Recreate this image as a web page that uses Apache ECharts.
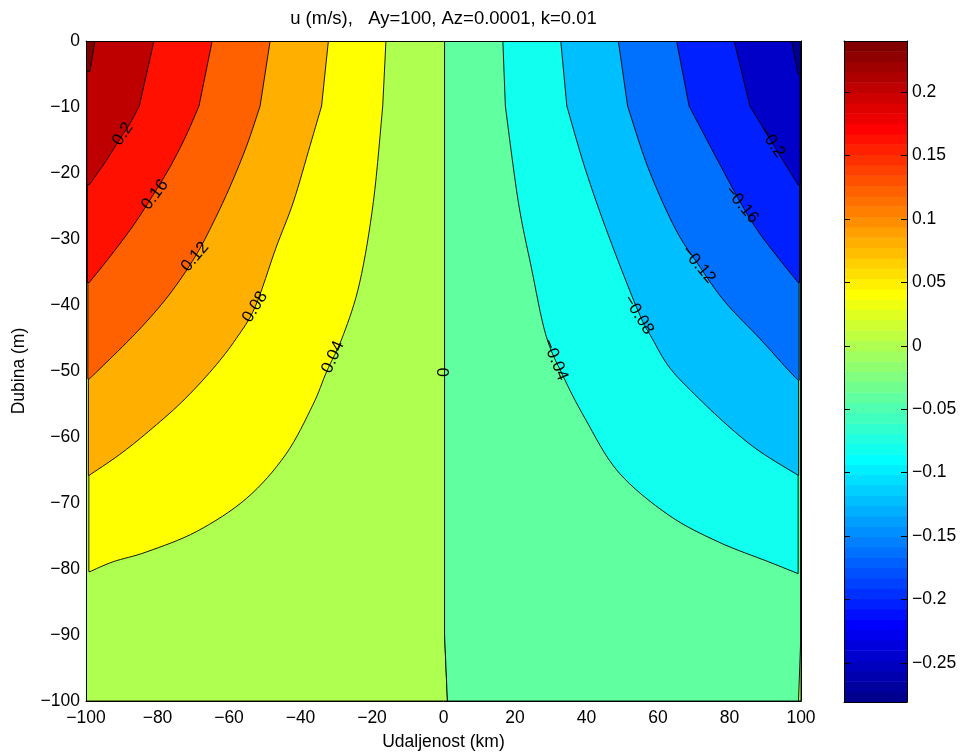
<!DOCTYPE html>
<html>
<head>
<meta charset="utf-8">
<script src="https://cdn.jsdelivr.net/npm/echarts@6/dist/echarts.min.js"></script>
<style>
  html, body { margin: 0; background: #fff; }
  #chart { width: 964px; height: 753px; }
</style>
</head>
<body>
<div id="chart"></div>
<script>
// contour lines: [distance km, depth m], surface -> wall
var c0 = [[0.3, 0], [0.3, -90], [1.1, -100]];
var c0Right = [[99.9, 0], [99.9, -91], [99.3, -100]];

var cP004 = [[-16.1, 0], [-17.0, -9.85], [-19.6, -24.3], [-23.4, -36.5], [-28.0, -44.5], [-32.7, -50.1],
  [-36.6, -55.2], [-44.2, -62.7], [-55.1, -69.3], [-69.0, -74.3], [-83.0, -77.4], [-92.4, -78.9], [-98.9, -80.4]];
var cP008 = [[-32.2, 0], [-34.1, -9.85], [-37.3, -15.8], [-42.0, -24.4], [-46.9, -31.4], [-52.7, -40.3],
  [-58.0, -45.1], [-64.4, -49.6], [-73.2, -54.7], [-82.6, -59.2], [-90.7, -62.7], [-99.1, -65.8]];
var cP012 = [[-48.5, 0], [-51.3, -9.85], [-55.0, -15.8], [-59.5, -21.8], [-64.3, -27.4], [-69.5, -32.7],
  [-76.8, -38.5], [-85.6, -44.0], [-96.0, -49.6], [-99.1, -51.2]];
var cP016 = [[-64.7, 0], [-68.4, -9.85], [-71.9, -14.2], [-76.2, -18.8], [-81.2, -23.3], [-86.7, -27.9],
  [-92.9, -32.4], [-99.1, -36.6]];
var cP020 = [[-81.0, 0], [-85.1, -9.85], [-87.7, -12.5], [-90.7, -15.0], [-94.2, -18.0], [-97.0, -20.2], [-99.1, -21.8]];
var cP024 = [[-97.5, 0], [-98.9, -4.6]];

var cN004 = [[16.6, 0], [17.3, -9.85], [20.9, -24.3], [24.6, -34.4], [28.6, -44.5], [33.3, -50.6],
  [39.6, -57.2], [48.9, -65.3], [62.9, -71.8], [76.9, -75.9], [90.9, -78.9], [99.2, -80.7]];
var cN008 = [[32.8, 0], [34.5, -9.85], [39.6, -19.3], [46.1, -29.4], [54.5, -41.0], [58.4, -45.1],
  [63.4, -49.6], [71.3, -54.1], [80.4, -58.7], [88.5, -62.2], [99.2, -65.8]];
var cN012 = [[48.9, 0], [51.5, -9.85], [57.3, -19.3], [64.8, -28.4], [71.3, -33.9], [78.7, -39.5],
  [88.5, -45.1], [96.0, -49.6], [99.2, -51.4]];
var cN016 = [[65.2, 0], [68.7, -9.85], [76.9, -18.3], [83.4, -24.8], [88.1, -28.9], [93.7, -32.9], [99.2, -36.6]];
var cN020 = [[81.3, 0], [85.7, -9.85], [91.8, -15.3], [94.6, -17.8], [99.2, -21.8]];
var cN024 = [[97.4, 0], [99.2, -5.0]];

var posCurves = [cP004, cP008, cP012, cP016, cP020, cP024];
var negCurves = [cN004, cN008, cN012, cN016, cN020, cN024];

// band colours (jet colormap at each level)
var bgPosColor = '#afff50';
var bgNegColor = '#60ff9f';
var posColors = ['#ffff00', '#ffaf00', '#ff6000', '#ff1000', '#bf0000', '#800000'];
var negColors = ['#10ffef', '#00bfff', '#0070ff', '#0020ff', '#0000c8', '#00008f'];

// contour labels: [x, depth, text, angle deg]
var contourLabels = [
  [-89.7, -14.1, '0.2', 56], [-80.7, -23.3, '0.16', 53], [-69.5, -32.7, '0.12', 50],
  [-52.7, -40.3, '0.08', 58], [-30.9, -47.9, '0.04', 66], [0.1, -50.2, '0', 90],
  [31.2, -48.3, '\u22120.04', -68], [54.5, -41.5, '\u22120.08', -58], [71.3, -33.9, '\u22120.12', -50],
  [83.4, -24.8, '\u22120.16', -50], [91.8, -15.3, '\u22120.2', -56]
];

// colorbar
var cbarMin = -0.2808;
var cbarMax = 0.2403;
var cbarTicks = [-0.25, -0.2, -0.15, -0.1, -0.05, 0, 0.05, 0.1, 0.15, 0.2];

var FONT = 'Liberation Sans';

function jet64(i) {
  var r = i <= 24 ? 0 : i <= 40 ? (i - 24) / 16 : i <= 56 ? 1 : (72 - i) / 16;
  var g = i <= 8 ? 0 : i <= 24 ? (i - 8) / 16 : i <= 40 ? 1 : i <= 55 ? (56 - i) / 16 : 0;
  var b = i <= 8 ? (i + 8) / 16 : i <= 24 ? 1 : i <= 40 ? (40 - i) / 16 : 0;
  return 'rgb(' + Math.round(r * 255) + ',' + Math.round(g * 255) + ',' + Math.round(b * 255) + ')';
}

function minus(v) {
  return v < 0 ? '\u2212' + String(Math.abs(v)) : String(v);
}

// smooth drawing of a contour in pixel space (first segment stays straight, like the reference)
function spline(p) {
  if (p.length < 3) return p;
  var out = [p[0], p[1]];
  for (var i = 1; i < p.length - 1; i++) {
    var a = p[i === 1 ? 1 : i - 1], b = p[i], c = p[i + 1], d = p[i + 2 < p.length ? i + 2 : i + 1];
    for (var s = 1; s <= 8; s++) {
      var t = s / 8, t2 = t * t, t3 = t2 * t;
      out.push([0, 1].map(function (k) {
        return 0.5 * (2 * b[k] + (-a[k] + c[k]) * t + (2 * a[k] - 5 * b[k] + 4 * c[k] - d[k]) * t2 +
          (-a[k] + 3 * b[k] - 3 * c[k] + d[k]) * t3);
      }));
    }
  }
  return out;
}

// filled regions
var fills = [];
fills.push({ lead: [[-100, 0]], curve: c0, tail: [[-100, -100]], color: bgPosColor, smooth: false });
fills.push({ lead: [], curve: c0, tail: [[100, -100], [100, 0]], color: bgNegColor, smooth: false });
fills.push({ lead: [], curve: c0Right, tail: [[100, -100], [100, 0]], color: bgPosColor, smooth: false });
posCurves.forEach(function (c, i) {
  var wx = -99.2 - 0.14 * i;
  var last = c[c.length - 1];
  fills.push({ lead: [], curve: c, tail: [[wx, last[1]], [wx, 0]], color: posColors[i], smooth: true });
});
negCurves.forEach(function (c, i) {
  var wx = 99.2 + 0.14 * i;
  var last = c[c.length - 1];
  fills.push({ lead: [], curve: c, tail: [[wx, last[1]], [wx, 0]], color: negColors[i], smooth: true });
});

var cells = [];
for (var i = 1; i <= 64; i++) cells.push([i]);

var chart = echarts.init(document.getElementById('chart'));

function frameAxis(extra) {
  return Object.assign({
    type: 'value', z: 10,
    axisLine: { onZero: false, lineStyle: { color: '#000', width: 1 } },
    axisTick: { show: false }, axisLabel: { show: false }, splitLine: { show: false }
  }, extra);
}

chart.setOption({
  animation: false,
  textStyle: { fontFamily: FONT },
  graphic: [{
    type: 'text', x: 443.5, y: 19,
    style: {
      text: 'u (m/s),   Ay=100, Az=0.0001, k=0.01',
      font: '18.5px ' + FONT, fill: '#000',
      align: 'center', verticalAlign: 'middle', textAlign: 'center', textVerticalAlign: 'middle'
    }
  }],
  grid: [
    { left: 86, top: 41, width: 715, height: 660, show: false, outerBoundsMode: 'none', containLabel: false },
    { left: 844, top: 41, width: 63, height: 661, show: false, outerBoundsMode: 'none', containLabel: false }
  ],
  xAxis: [
    {
      gridIndex: 0, type: 'value', min: -100, max: 100, interval: 20, z: 10,
      name: 'Udaljenost (km)', nameLocation: 'middle', nameGap: 32,
      nameTextStyle: { fontSize: 17.5, color: '#000', fontFamily: FONT },
      axisLine: { onZero: false, lineStyle: { color: '#000', width: 1 } },
      axisTick: { show: false }, splitLine: { show: false },
      axisLabel: { fontSize: 17.5, color: '#000', margin: 8, formatter: minus }
    },
    frameAxis({ gridIndex: 0, min: -100, max: 100, position: 'top' }),
    frameAxis({ gridIndex: 1, min: 0, max: 1, position: 'bottom' }),
    frameAxis({ gridIndex: 1, min: 0, max: 1, position: 'top' })
  ],
  yAxis: [
    {
      gridIndex: 0, type: 'value', min: -100, max: 0, interval: 10, z: 10,
      name: 'Dubina (m)', nameLocation: 'middle', nameGap: 58, nameRotate: 90,
      nameTextStyle: { fontSize: 17.5, color: '#000', fontFamily: FONT },
      axisLine: { onZero: false, lineStyle: { color: '#000', width: 1 } },
      axisTick: { show: false }, splitLine: { show: false },
      axisLabel: { fontSize: 17.5, color: '#000', margin: 6, formatter: minus }
    },
    frameAxis({ gridIndex: 0, min: -100, max: 0, position: 'right' }),
    {
      gridIndex: 1, type: 'value', min: cbarMin, max: cbarMax, position: 'right', z: 10,
      axisLine: { onZero: false, lineStyle: { color: '#000', width: 1 } },
      axisTick: { inside: true, length: 6, lineStyle: { color: '#000' }, customValues: cbarTicks },
      axisLabel: { fontSize: 17.5, color: '#000', margin: 5, customValues: cbarTicks, formatter: minus },
      splitLine: { show: false }
    },
    {
      gridIndex: 1, type: 'value', min: cbarMin, max: cbarMax, position: 'left', z: 10,
      axisLine: { onZero: false, lineStyle: { color: '#000', width: 1 } },
      axisTick: { inside: true, length: 6, lineStyle: { color: '#000' }, customValues: cbarTicks },
      axisLabel: { show: false }, splitLine: { show: false }
    }
  ],
  series: [
    {
      type: 'custom', xAxisIndex: 0, yAxisIndex: 0, clip: true, z: 2,
      data: fills.map(function (f, k) { return [k]; }),
      renderItem: function (params, api) {
        var f = fills[params.dataIndex];
        var px = function (p) { return api.coord(p); };
        var curve = f.curve.map(px);
        if (f.smooth) curve = spline(curve);
        var pts = f.lead.map(px).concat(curve, f.tail.map(px));
        return {
          type: 'polygon',
          shape: { points: pts },
          style: { fill: f.color, stroke: '#000', lineWidth: 0.9 }
        };
      }
    },
    {
      type: 'custom', xAxisIndex: 0, yAxisIndex: 0, clip: true, z: 3,
      data: contourLabels.map(function (l, k) { return [k]; }),
      renderItem: function (params, api) {
        var l = contourLabels[params.dataIndex];
        var p = api.coord([l[0], l[1]]);
        return {
          type: 'text', x: p[0], y: p[1], rotation: l[3] * Math.PI / 180,
          style: {
            text: l[2], font: '17px ' + FONT, fill: '#000',
            align: 'center', verticalAlign: 'middle', textAlign: 'center', textVerticalAlign: 'middle'
          }
        };
      }
    },
    {
      type: 'custom', xAxisIndex: 2, yAxisIndex: 2, clip: true, z: 2,
      data: cells,
      renderItem: function (params, api) {
        var i = cells[params.dataIndex][0];
        var step = (cbarMax - cbarMin) / 64;
        var p0 = api.coord([0, cbarMin + (i - 1) * step]);
        var p1 = api.coord([1, cbarMin + i * step]);
        return {
          type: 'rect',
          shape: { x: p0[0], y: p1[1], width: p1[0] - p0[0], height: p0[1] - p1[1] + 0.5 },
          style: { fill: jet64(i) }
        };
      }
    }
  ]
});
</script>
</body>
</html>
